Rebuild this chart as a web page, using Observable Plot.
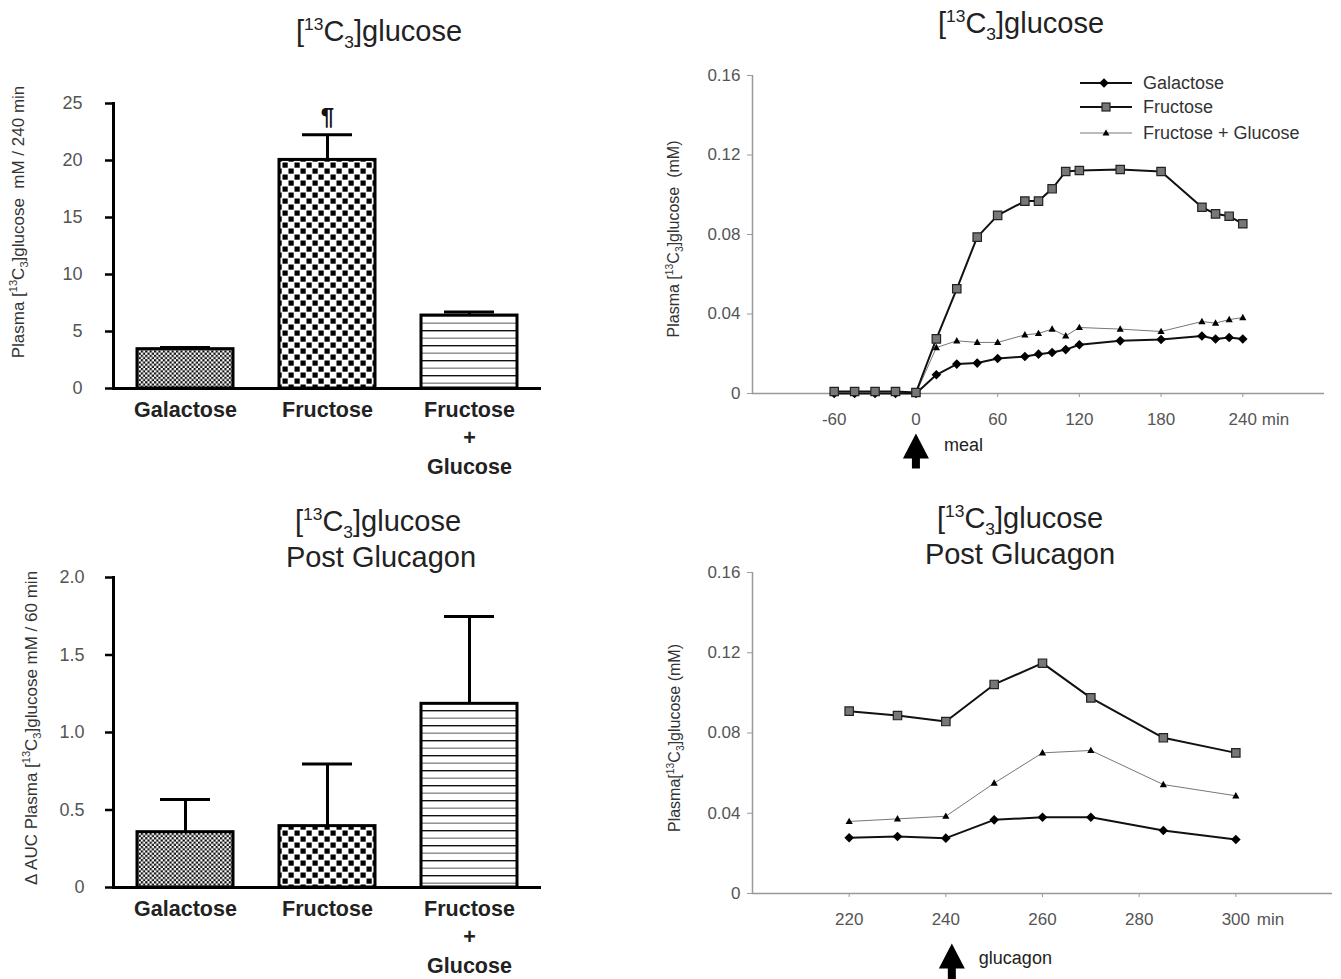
<!DOCTYPE html>
<html>
<head>
<meta charset="utf-8">
<script src="https://cdn.jsdelivr.net/npm/d3@7"></script>
<script src="https://cdn.jsdelivr.net/npm/@observablehq/plot@0.6"></script>
<style>
  body { margin: 0; background: #fff; font-family: "Liberation Sans", Arial, sans-serif; }
  #root { position: relative; width: 1341px; height: 979px; overflow: hidden; background: #fff; }
  .pane { position: absolute; }
  .title { position: absolute; text-align: center; color: #222; font-size: 29px; line-height: 33px; white-space: nowrap; transform: translateX(-50%); }
  .title sup, .title sub { font-size: 0.6em; line-height: 0; }
  .ylab { position: absolute; white-space: nowrap; transform: translate(-50%, -50%) rotate(-90deg); color: #333; }
  .ylab sup, .ylab sub { font-size: 0.65em; line-height: 0; }
  .legend { position: absolute; display: flex; align-items: center; font-size: 18px; color: #333; height: 22px; white-space: nowrap; }
  .legend svg { display: block; }
</style>
</head>
<body>
<svg width="0" height="0" style="position:absolute">
  <defs>
    <pattern id="patGal" patternUnits="userSpaceOnUse" width="4.4" height="4.4">
      <rect width="4.4" height="4.4" fill="#fff"/>
      <rect width="2.2" height="2.2" fill="#111"/>
      <rect x="2.2" y="2.2" width="2.2" height="2.2" fill="#111"/>
    </pattern>
    <pattern id="patFru" patternUnits="userSpaceOnUse" width="12" height="12">
      <rect width="12" height="12" fill="#fff"/>
      <rect x="0.5" y="0.5" width="5.2" height="5.2" fill="#000"/>
      <rect x="6.5" y="6.5" width="5.2" height="5.2" fill="#000"/>
    </pattern>
    <pattern id="patFG" patternUnits="userSpaceOnUse" width="10" height="15">
      <rect width="10" height="15" fill="#fff"/>
      <rect y="0" width="10" height="1.4" fill="#111"/>
      <rect y="7.5" width="10" height="1.4" fill="#888"/>
    </pattern>
  </defs>
</svg>
<div id="root">
  <div class="pane" id="pTL" style="left:0px;top:60px"></div>
  <div class="pane" id="pTR" style="left:640px;top:60px"></div>
  <div class="pane" id="pBL" style="left:0px;top:560px"></div>
  <div class="pane" id="pBR" style="left:640px;top:560px"></div>

  <div class="title" style="left:379px;top:15px">[<sup>13</sup>C<sub>3</sub>]glucose</div>
  <div class="title" style="left:1021px;top:7px">[<sup>13</sup>C<sub>3</sub>]glucose</div>
  <div class="title" style="left:378px;top:505px">[<sup>13</sup>C<sub>3</sub>]glucose</div>
  <div class="title" style="left:381px;top:541px">Post Glucagon</div>
  <div class="title" style="left:1020px;top:502px">[<sup>13</sup>C<sub>3</sub>]glucose</div>
  <div class="title" style="left:1020px;top:538px">Post Glucagon</div>

  <div class="ylab" style="left:19px;top:222px;font-size:17px">Plasma [<sup>13</sup>C<sub>3</sub>]glucose&nbsp;&nbsp;mM / 240 min</div>
  <div class="ylab" style="left:32px;top:728px;font-size:17px">&Delta; AUC Plasma [<sup>13</sup>C<sub>3</sub>]glucose mM / 60 min</div>
  <div class="ylab" style="left:674px;top:239px;font-size:16px">Plasma [<sup>13</sup>C<sub>3</sub>]glucose&nbsp;&nbsp;(mM)</div>
  <div class="ylab" style="left:675px;top:738px;font-size:16px">Plasma[<sup>13</sup>C<sub>3</sub>]glucose (mM)</div>

  <div class="legend" style="left:1080px;top:72px">
    <svg width="52" height="22"><line x1="0" y1="11" x2="52" y2="11" stroke="#111" stroke-width="2"/><path d="M24,6.2L28.8,11L24,15.8L19.2,11Z" fill="#000"/></svg>
    <span style="margin-left:11px">Galactose</span>
  </div>
  <div class="legend" style="left:1080px;top:96px">
    <svg width="52" height="22"><line x1="0" y1="11" x2="52" y2="11" stroke="#111" stroke-width="2"/><rect x="22" y="7" width="8" height="8" fill="#777" stroke="#222" stroke-width="1.2"/></svg>
    <span style="margin-left:11px">Fructose</span>
  </div>
  <div class="legend" style="left:1080px;top:122px">
    <svg width="52" height="22"><line x1="0" y1="11" x2="52" y2="11" stroke="#777" stroke-width="1"/><path d="M26,7.5L29.5,13.5L22.5,13.5Z" fill="#000"/></svg>
    <span style="margin-left:11px">Fructose + Glucose</span>
  </div>
</div>

<script>
// ---------- Bar chart data ----------
const barNames = ["Galactose", "Fructose", "Fructose + Glucose"];
const barTickLabels = ["Galactose", "Fructose", "Fructose\n+\nGlucose"];
const meal240Means = [3.45, 20.05, 6.4];
const meal240Errors = [0.15, 2.2, 0.3];
const meal240Marks = ["", "\u00B6", ""];
const meal240Ticks = [0, 5, 10, 15, 20, 25];
const glucagonMeans = [0.357, 0.396, 1.185];
const glucagonErrors = [0.21, 0.40, 0.563];
const glucagonBarTicks = [0, 0.5, 1, 1.5, 2];

// ---------- Time-course data (meal) ----------
const mealTimes = [-60, -45, -30, -15, 0, 15, 30, 45, 60, 80, 90, 100, 110, 120, 150, 180, 210, 220, 230, 240];
const galactoseMeal = [0, 0, 0, 0, 0, 0.0094, 0.0148, 0.0153, 0.0176, 0.0186, 0.0198, 0.0206, 0.0221, 0.0245, 0.0265, 0.0272, 0.0289, 0.0274, 0.0282, 0.0274];
const fructoseMeal = [0.001, 0.001, 0.001, 0.001, 0.0005, 0.0275, 0.0527, 0.0787, 0.0896, 0.0968, 0.0968, 0.103, 0.1117, 0.1122, 0.1127, 0.1117, 0.0937, 0.0904, 0.0892, 0.0854];
const fgMeal = [0, 0, 0, 0, 0, 0.0231, 0.0265, 0.0257, 0.0257, 0.0295, 0.0302, 0.0324, 0.029, 0.0332, 0.0324, 0.0312, 0.0362, 0.0354, 0.0372, 0.0382];
const mealXDomain = [-120, 300];
const mealXTicks = [-60, 0, 60, 120, 180, 240];
const mealTime = 0;

// ---------- Time-course data (glucagon) ----------
const glucTimes = [220, 230, 240, 250, 260, 270, 285, 300];
const galactoseGluc = [0.0278, 0.0284, 0.0276, 0.0367, 0.038, 0.038, 0.0314, 0.0269];
const fructoseGluc = [0.0909, 0.0887, 0.0857, 0.1042, 0.1148, 0.0975, 0.0776, 0.0701];
const fgGluc = [0.0359, 0.0372, 0.0385, 0.055, 0.0701, 0.0713, 0.0543, 0.0487];
const glucXDomain = [200, 320];
const glucXTicks = [220, 240, 260, 280, 300];
const glucagonTime = 240;

const lineYDomain = [0, 0.16];
const lineYTicks = [0, 0.04, 0.08, 0.12, 0.16];

// ---------- styles ----------
const FONT = "Liberation Sans, Arial, sans-serif";
const barFill = {"Galactose": "url(#patGal)", "Fructose": "url(#patFru)", "Fructose + Glucose": "url(#patFG)"};

const diamondSym = {draw(ctx) { const s = 4.8; ctx.moveTo(0, -s); ctx.lineTo(s, 0); ctx.lineTo(0, s); ctx.lineTo(-s, 0); ctx.closePath(); }};
const squareSym = {draw(ctx) { const s = 4.2; ctx.moveTo(-s, -s); ctx.lineTo(s, -s); ctx.lineTo(s, s); ctx.lineTo(-s, s); ctx.closePath(); }};
const triSym = {draw(ctx) { ctx.moveTo(0, -3.8); ctx.lineTo(3.6, 2.6); ctx.lineTo(-3.6, 2.6); ctx.closePath(); }};
function arrowSym(shaft) {
  return {draw(ctx) {
    ctx.moveTo(0, 0); ctx.lineTo(13, 25); ctx.lineTo(4, 25); ctx.lineTo(4, shaft);
    ctx.lineTo(-4, shaft); ctx.lineTo(-4, 25); ctx.lineTo(-13, 25); ctx.closePath();
  }};
}

function barChart({means, errors, marks, ticks, tickFormat, height, marginTop, marginBottom, tickPadding}) {
  const data = barNames.map((name, i) => ({name, label: barTickLabels[i], mean: means[i], err: errors[i], mark: marks ? marks[i] : ""}));
  return Plot.plot({
    width: 560, height, marginLeft: 113, marginRight: 19, marginTop, marginBottom,
    style: {fontFamily: FONT, background: "transparent", overflow: "visible"},
    x: {type: "band", domain: barNames, paddingInner: 0.324, paddingOuter: 0.169, axis: null},
    y: {domain: [ticks[0], ticks[ticks.length - 1]]},
    color: {type: "identity"},
    marks: [
      Plot.barY(data, {x: "name", y: "mean", fill: d => barFill[d.name], stroke: "#000", strokeWidth: 3}),
      Plot.ruleX(data, {x: "name", y1: "mean", y2: d => d.mean + d.err, stroke: "#000", strokeWidth: 3}),
      Plot.tickY(data, {x: "name", y: d => d.mean + d.err, stroke: "#000", strokeWidth: 3, insetLeft: 23, insetRight: 23}),
      Plot.text(data.filter(d => d.mark), {x: "name", y: d => d.mean + d.err, text: "mark", dy: -18, fontSize: 24, fontWeight: "bold", fill: "#111"}),
      Plot.ruleY([0], {stroke: "#000", strokeWidth: 3}),
      Plot.frame({anchor: "left", stroke: "#000", strokeWidth: 3}),
      Plot.axisY({ticks, tickFormat, tickSize: 8, tickPadding, stroke: "#000", strokeWidth: 2.5, fill: "#555", fontSize: 18, label: null}),
      Plot.text(data, {x: "name", text: "label", frameAnchor: "bottom", dy: 8, lineAnchor: "top", lineHeight: 1.33, fontSize: 21.5, fontWeight: "bold", fill: "#222"})
    ]
  });
}

function lineChart({times, gal, fru, fg, xDomain, xTicks, height, marginTop, marginBottom, marginRight, eventTime, eventLabel, arrowDy, arrowDx, arrowShaft, labelDy, labelDx, minDx}) {
  const toRows = vals => times.map((t, i) => ({t, v: vals[i]}));
  const galData = toRows(gal), fruData = toRows(fru), fgData = toRows(fg);
  return Plot.plot({
    width: 700, height, marginLeft: 112, marginRight, marginTop, marginBottom,
    style: {fontFamily: FONT, background: "transparent", overflow: "visible"},
    x: {domain: xDomain},
    y: {domain: lineYDomain},
    marks: [
      Plot.ruleY([lineYDomain[0]], {stroke: "#999", strokeWidth: 1.5}),
      Plot.ruleX([xDomain[0]], {stroke: "#999", strokeWidth: 1.5}),
      Plot.axisY({ticks: lineYTicks, tickFormat: d => d === 0 ? "0" : d.toFixed(2), tickSize: 5, tickPadding: 7, stroke: "#999", fill: "#555", fontSize: 17, label: null}),
      Plot.axisX({ticks: xTicks, tickFormat: d => String(d), tickSize: 4, tickPadding: 15, stroke: "#999", fill: "#555", fontSize: 17, label: null}),
      Plot.text([xTicks[xTicks.length - 1]], {x: d => d, text: () => "min", frameAnchor: "bottom", lineAnchor: "top", dy: 19, dx: minDx, textAnchor: "start", fill: "#555", fontSize: 17}),
      Plot.lineY(fgData, {x: "t", y: "v", stroke: "#777", strokeWidth: 1}),
      Plot.dot(fgData, {x: "t", y: "v", symbol: triSym, fill: "#000", stroke: "none"}),
      Plot.lineY(galData, {x: "t", y: "v", stroke: "#111", strokeWidth: 2}),
      Plot.dot(galData, {x: "t", y: "v", symbol: diamondSym, fill: "#000", stroke: "none"}),
      Plot.lineY(fruData, {x: "t", y: "v", stroke: "#111", strokeWidth: 2}),
      Plot.dot(fruData, {x: "t", y: "v", symbol: squareSym, fill: "#777", stroke: "#222", strokeWidth: 1.2}),
      Plot.dot([eventTime], {x: d => d, frameAnchor: "bottom", dy: arrowDy, dx: arrowDx, symbol: arrowSym(arrowShaft), fill: "#000", stroke: "none"}),
      Plot.text([eventTime], {x: d => d, text: () => eventLabel, frameAnchor: "bottom", dy: labelDy, dx: labelDx, textAnchor: "start", fontSize: 18, fill: "#222"})
    ]
  });
}

document.getElementById("pTL").append(barChart({
  means: meal240Means, errors: meal240Errors, marks: meal240Marks, ticks: meal240Ticks,
  tickFormat: d => String(d), height: 420, marginTop: 43, marginBottom: 92, tickPadding: 23
}));
document.getElementById("pBL").append(barChart({
  means: glucagonMeans, errors: glucagonErrors, marks: null, ticks: glucagonBarTicks,
  tickFormat: d => d === 0 ? "0" : d.toFixed(1), height: 419, marginTop: 17, marginBottom: 92, tickPadding: 21
}));
document.getElementById("pTR").append(lineChart({
  times: mealTimes, gal: galactoseMeal, fru: fructoseMeal, fg: fgMeal,
  xDomain: mealXDomain, xTicks: mealXTicks, height: 420, marginTop: 15, marginBottom: 87, marginRight: 16,
  eventTime: mealTime, eventLabel: "meal", arrowDy: 40, arrowDx: 0, arrowShaft: 35, labelDy: 57, labelDx: 28, minDx: 19
}));
document.getElementById("pBR").append(lineChart({
  times: glucTimes, gal: galactoseGluc, fru: fructoseGluc, fg: fgGluc,
  xDomain: glucXDomain, xTicks: glucXTicks, height: 419, marginTop: 12, marginBottom: 86, marginRight: 8,
  eventTime: glucagonTime, eventLabel: "glucagon", arrowDy: 50, arrowDx: 6, arrowShaft: 45, labelDy: 70, labelDx: 33, minDx: 21
}));
</script>
</body>
</html>
